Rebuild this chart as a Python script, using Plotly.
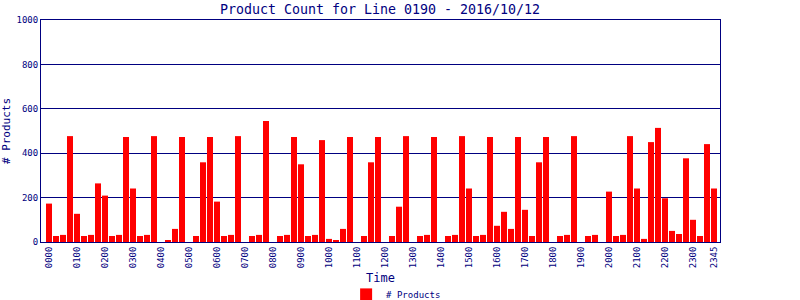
import plotly.graph_objects as go

# 15-minute time slots for the day
times = ["%02d%02d" % (h, m) for h in range(24) for m in (0, 15, 30, 45)]

products = [
    173, 27, 32, 477,   127, 27, 32, 264,   209, 27, 32, 473,   241, 27, 32, 477,
    0, 9, 59, 473,      0, 27, 359, 473,    182, 27, 32, 477,   0, 27, 32, 545,
    0, 27, 32, 473,     350, 27, 32, 459,   14, 9, 59, 473,     0, 27, 359, 473,
    0, 27, 159, 477,    0, 27, 32, 473,     0, 27, 32, 477,     241, 27, 32, 473,
    73, 136, 59, 473,   145, 27, 359, 473,  0, 27, 32, 477,     0, 27, 32, 0,
    227, 27, 32, 477,   241, 14, 450, 514,  197, 50, 36, 377,   100, 27, 441, 241,
]

tick_labels = ["0000", "0100", "0200", "0300", "0400", "0500", "0600", "0700",
               "0800", "0900", "1000", "1100", "1200", "1300", "1400", "1500",
               "1600", "1700", "1800", "1900", "2000", "2100", "2200", "2300", "2345"]

y_ticks = [0, 200, 400, 600, 800, 1000]

NAVY = "#000080"
MONO = "DejaVu Sans Mono"

fig = go.Figure()
fig.add_trace(go.Bar(
    x=times, y=products, name="# Products",
    marker=dict(color="#FF0000", line=dict(width=0)),
))

fig.update_layout(
    width=800, height=300,
    margin=dict(l=41, r=80, t=20, b=58, autoexpand=False),
    paper_bgcolor="white", plot_bgcolor="white",
    bargap=0.14,
    title=dict(text="Product Count for Line 0190 - 2016/10/12",
               x=0.475, xanchor="center", y=0.985, yanchor="top",
               font=dict(family=MONO, size=13.3, color=NAVY)),
    showlegend=True,
    legend=dict(orientation="h", x=0.523, xanchor="center", y=-0.236, yanchor="middle",
                font=dict(family=MONO, size=9, color=NAVY),
                itemwidth=30, tracegroupgap=0, borderwidth=0),
    xaxis=dict(
        type="category", tickmode="array", tickvals=tick_labels, ticktext=tick_labels,
        range=[-1.14, 95.86],
        tickangle=-90, tickfont=dict(family=MONO, size=9, color=NAVY),
        showgrid=False, showline=True, linecolor=NAVY, linewidth=1, mirror=True,
        ticks="", automargin=False,
        title=dict(text="Time", font=dict(family=MONO, size=12, color=NAVY), standoff=6),
    ),
    yaxis=dict(
        range=[0, 1000], tickvals=y_ticks,
        tickfont=dict(family=MONO, size=9, color=NAVY),
        showgrid=True, gridcolor=NAVY, gridwidth=1,
        showline=True, linecolor=NAVY, linewidth=1, mirror=True,
        zeroline=False, ticks="", automargin=False,
        title=dict(text="# Products", font=dict(family=MONO, size=11, color=NAVY), standoff=4),
    ),
)

fig.write_html("out.html")
